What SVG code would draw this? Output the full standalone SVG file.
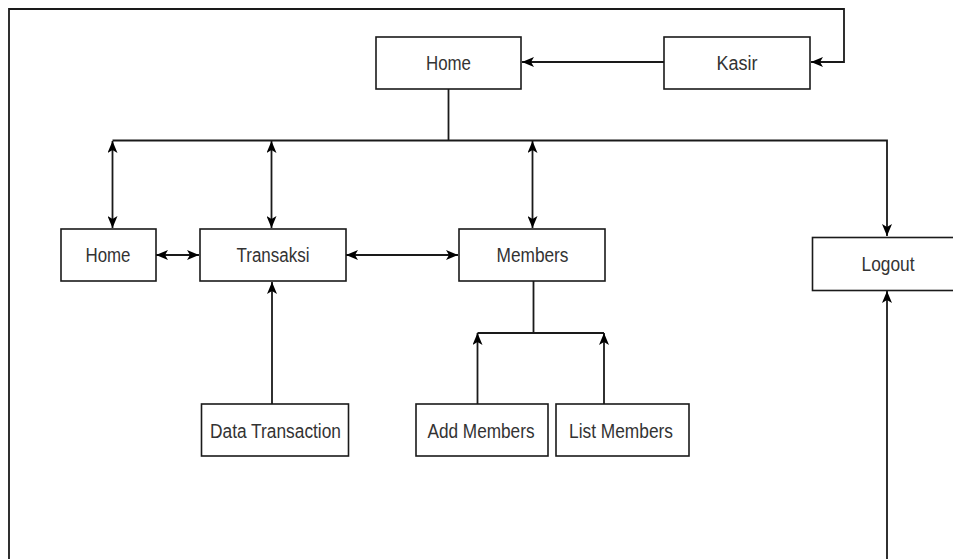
<svg xmlns="http://www.w3.org/2000/svg" width="953" height="559" viewBox="0 0 953 559">
  <style>
    .box { fill: #ffffff; stroke: #1a1a1a; stroke-width: 1.6; }
    .lbl { font-family: "Liberation Sans", Arial, sans-serif; font-size: 19.5px; fill: #333333; text-anchor: middle; }
    .ln { fill: none; stroke: #1a1a1a; stroke-width: 1.8; }
    .arr { marker-end: url(#ah); }
    .bi { marker-start: url(#ah); marker-end: url(#ah); }
  </style>
  <defs>
    <marker id="ah" viewBox="0 0 12 10" refX="12" refY="5" markerWidth="12" markerHeight="10" markerUnits="userSpaceOnUse" orient="auto-start-reverse">
      <path d="M0,0 L12,5 L0,10 L3,5 Z" fill="#000000"/>
    </marker>
  </defs>
  <rect width="953" height="559" fill="#ffffff"/>

  <g id="connectors">
    <path class="ln arr" d="M9,559 L9,9 L844,9 L844,62 L811,62"/>
    <path class="ln arr" d="M664,62 L522,62"/>
    <path class="ln" d="M448.5,89 L448.5,140.5"/>
    <path class="ln arr" d="M112.5,140.5 L887,140.5 L887,236"/>
    <path class="ln bi" d="M112.5,141 L112.5,228"/>
    <path class="ln bi" d="M271.5,141 L271.5,228"/>
    <path class="ln bi" d="M532.5,141 L532.5,228"/>
    <path class="ln bi" d="M156,255 L199,255"/>
    <path class="ln bi" d="M346,255 L458,255"/>
    <path class="ln arr" d="M272,404 L272,282"/>
    <path class="ln" d="M533.5,281 L533.5,333 M477.5,333 L604,333"/>
    <path class="ln arr" d="M477.5,404 L477.5,333"/>
    <path class="ln arr" d="M604,404 L604,333"/>
    <path class="ln arr" d="M887,559 L887,291"/>
  </g>

  <g id="home_top">
    <rect class="box" x="376" y="37" width="145" height="52"/>
    <text class="lbl" x="448.5" y="70" textLength="45" lengthAdjust="spacingAndGlyphs">Home</text>
  </g>
  <g id="kasir">
    <rect class="box" x="664" y="37" width="146" height="52"/>
    <text class="lbl" x="737" y="70" textLength="41" lengthAdjust="spacingAndGlyphs">Kasir</text>
  </g>
  <g id="home_menu">
    <rect class="box" x="61" y="229" width="95" height="52"/>
    <text class="lbl" x="108" y="262" textLength="45" lengthAdjust="spacingAndGlyphs">Home</text>
  </g>
  <g id="transaksi">
    <rect class="box" x="200" y="229" width="146" height="52"/>
    <text class="lbl" x="273" y="262" textLength="73" lengthAdjust="spacingAndGlyphs">Transaksi</text>
  </g>
  <g id="members">
    <rect class="box" x="459" y="229" width="146" height="52"/>
    <text class="lbl" x="532.5" y="262" textLength="72" lengthAdjust="spacingAndGlyphs">Members</text>
  </g>
  <g id="logout">
    <rect class="box" x="812.5" y="237.5" width="150" height="53"/>
    <text class="lbl" x="888" y="271" textLength="53" lengthAdjust="spacingAndGlyphs">Logout</text>
  </g>
  <g id="data_transaction">
    <rect class="box" x="201.5" y="404" width="147" height="52"/>
    <text class="lbl" x="275.5" y="437.5" textLength="131" lengthAdjust="spacingAndGlyphs">Data Transaction</text>
  </g>
  <g id="add_members">
    <rect class="box" x="416" y="404" width="132" height="52"/>
    <text class="lbl" x="481" y="437.5" textLength="107" lengthAdjust="spacingAndGlyphs">Add Members</text>
  </g>
  <g id="list_members">
    <rect class="box" x="556" y="404" width="133" height="52"/>
    <text class="lbl" x="621" y="437.5" textLength="104" lengthAdjust="spacingAndGlyphs">List Members</text>
  </g>
</svg>
